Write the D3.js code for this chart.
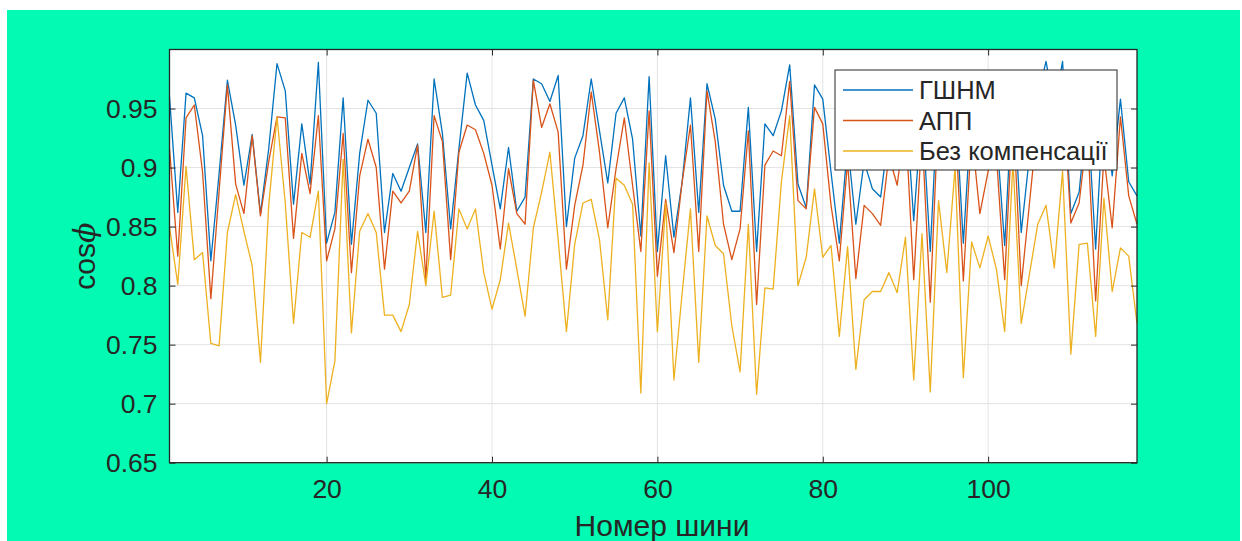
<!DOCTYPE html>
<html>
<head>
<meta charset="utf-8">
<script src="https://cdn.jsdelivr.net/npm/d3@7"></script>
<style>
  html, body { margin: 0; padding: 0; background: #fff; }
  svg { display: block; }
  text { font-family: "Liberation Sans", Arial, sans-serif; fill: #262626; }
</style>
</head>
<body>
<script>
(function() {
    var w = 1242;
    var h = 541;

    // bus numbers 1..118
    var buses = d3.range(1, 119);

    var gshnm = [0.960, 0.862, 0.963, 0.959, 0.927, 0.821, 0.895, 0.974, 0.936, 0.885,
        0.928, 0.861, 0.916, 0.988, 0.965, 0.869, 0.937, 0.886, 0.989, 0.836,
        0.862, 0.959, 0.835, 0.912, 0.957, 0.946, 0.845, 0.895, 0.880, 0.900,
        0.920, 0.845, 0.975, 0.929, 0.848, 0.916, 0.980, 0.953, 0.940, 0.902,
        0.865, 0.917, 0.863, 0.875, 0.975, 0.971, 0.956, 0.978, 0.850, 0.908,
        0.927, 0.975, 0.931, 0.887, 0.946, 0.959, 0.924, 0.842, 0.977, 0.829,
        0.910, 0.841, 0.888, 0.959, 0.862, 0.971, 0.941, 0.885, 0.863, 0.863,
        0.951, 0.829, 0.937, 0.927, 0.948, 0.987, 0.886, 0.866, 0.970, 0.958,
        0.896, 0.836, 0.920, 0.852, 0.905, 0.882, 0.875, 0.930, 0.910, 0.960,
        0.855, 0.950, 0.829, 0.970, 0.930, 0.960, 0.836, 0.950, 0.920, 0.960,
        0.930, 0.834, 0.970, 0.845, 0.910, 0.960, 0.990, 0.950, 0.990, 0.861,
        0.879, 0.950, 0.831, 0.960, 0.893, 0.958, 0.888, 0.876];

    var app = [0.916, 0.825, 0.942, 0.953, 0.896, 0.789, 0.880, 0.970, 0.886, 0.861,
        0.927, 0.859, 0.905, 0.943, 0.942, 0.840, 0.912, 0.878, 0.944, 0.821,
        0.848, 0.929, 0.811, 0.893, 0.924, 0.900, 0.814, 0.880, 0.870, 0.880,
        0.919, 0.805, 0.944, 0.922, 0.822, 0.913, 0.936, 0.932, 0.912, 0.885,
        0.831, 0.899, 0.861, 0.852, 0.974, 0.934, 0.954, 0.930, 0.814, 0.868,
        0.902, 0.964, 0.913, 0.849, 0.899, 0.942, 0.885, 0.829, 0.948, 0.808,
        0.873, 0.828, 0.888, 0.936, 0.829, 0.965, 0.922, 0.852, 0.822, 0.848,
        0.931, 0.784, 0.902, 0.914, 0.910, 0.973, 0.872, 0.865, 0.951, 0.937,
        0.868, 0.821, 0.905, 0.806, 0.868, 0.861, 0.851, 0.910, 0.885, 0.940,
        0.805, 0.930, 0.786, 0.950, 0.910, 0.940, 0.804, 0.930, 0.861, 0.897,
        0.910, 0.805, 0.950, 0.800, 0.870, 0.940, 0.960, 0.930, 0.970, 0.853,
        0.870, 0.930, 0.787, 0.910, 0.849, 0.943, 0.876, 0.852];

    var noComp = [0.850, 0.801, 0.901, 0.822, 0.828, 0.751, 0.749, 0.845, 0.877, 0.846,
        0.817, 0.735, 0.868, 0.943, 0.870, 0.768, 0.845, 0.841, 0.880, 0.700,
        0.736, 0.907, 0.760, 0.846, 0.861, 0.845, 0.775, 0.775, 0.761, 0.784,
        0.846, 0.800, 0.863, 0.790, 0.792, 0.865, 0.848, 0.865, 0.811, 0.780,
        0.805, 0.853, 0.814, 0.774, 0.849, 0.879, 0.913, 0.839, 0.761, 0.835,
        0.870, 0.873, 0.839, 0.771, 0.891, 0.885, 0.869, 0.709, 0.904, 0.761,
        0.870, 0.720, 0.794, 0.865, 0.735, 0.859, 0.834, 0.827, 0.766, 0.727,
        0.852, 0.708, 0.798, 0.797, 0.888, 0.944, 0.800, 0.824, 0.882, 0.824,
        0.834, 0.757, 0.833, 0.729, 0.788, 0.795, 0.795, 0.811, 0.794, 0.841,
        0.720, 0.844, 0.710, 0.872, 0.811, 0.900, 0.722, 0.837, 0.815, 0.842,
        0.814, 0.761, 0.905, 0.768, 0.810, 0.852, 0.868, 0.815, 0.897, 0.742,
        0.835, 0.836, 0.757, 0.874, 0.795, 0.832, 0.825, 0.768];

    var seriesNames = ["ГШНМ", "АПП", "Без компенсації"];
    var seriesColors = ["#0072BD", "#D95319", "#EDB120"];
    var xTicks = [20, 40, 60, 80, 100];
    var yTicks = [0.65, 0.7, 0.75, 0.8, 0.85, 0.9, 0.95];

    var left = 169.5, right = 1137, top = 49.5, bottom = 462.7;

    var svg = d3.select("body").append("svg")
        .attr("width", w)
        .attr("height", h);

    // green figure background
    svg.append("rect")
        .attr("x", 7).attr("y", 10)
        .attr("width", w - 9).attr("height", h - 10)
        .attr("fill", "#02FAB2");

    var x = d3.scaleLinear().domain([1, 118]).range([left, right]);
    var y = d3.scaleLinear().domain([0.65, 1.0]).range([bottom, top]);

    svg.append("rect")
        .attr("x", left).attr("y", top)
        .attr("width", right - left).attr("height", bottom - top)
        .attr("fill", "#ffffff");

    // grid
    svg.append("g").selectAll("line")
        .data(xTicks).enter().append("line")
        .attr("x1", function(d) { return x(d); })
        .attr("x2", function(d) { return x(d); })
        .attr("y1", top).attr("y2", bottom)
        .attr("stroke", "#e3e3e3").attr("stroke-width", 1);
    svg.append("g").selectAll("line")
        .data(yTicks).enter().append("line")
        .attr("x1", left).attr("x2", right)
        .attr("y1", function(d) { return y(d); })
        .attr("y2", function(d) { return y(d); })
        .attr("stroke", "#e3e3e3").attr("stroke-width", 1);

    // lines
    var data = [gshnm, app, noComp];
    var line = d3.line()
        .x(function(d, i) { return x(buses[i]); })
        .y(function(d) { return y(d); });

    var plot = svg.append("g");
    data.forEach(function(s, k) {
        plot.append("path")
            .datum(s)
            .attr("d", line)
            .attr("fill", "none")
            .attr("stroke", seriesColors[k])
            .attr("stroke-width", 1.3)
            .attr("stroke-linejoin", "round");
    });

    // axes (MATLAB-style, ticks inside, box on)
    var xAxis = d3.axisBottom(x).tickValues(xTicks).tickSize(-6).tickPadding(16)
        .tickFormat(d3.format("d"));
    var yAxis = d3.axisLeft(y).tickValues(yTicks).tickSize(-6).tickPadding(12)
        .tickFormat(function(d) { return d3.format("")(+d.toFixed(2)); });

    svg.append("g").attr("transform", "translate(0," + bottom + ")").call(xAxis);
    svg.append("g").attr("transform", "translate(" + left + ",0)").call(yAxis);
    svg.append("g").attr("transform", "translate(0," + top + ")")
        .call(d3.axisTop(x).tickValues(xTicks).tickSize(-6).tickFormat(""));
    svg.append("g").attr("transform", "translate(" + right + ",0)")
        .call(d3.axisRight(y).tickValues(yTicks).tickSize(-6).tickFormat(""));

    svg.selectAll(".domain").remove();
    svg.selectAll(".tick line").attr("stroke", "#262626").attr("stroke-width", 1);
    svg.selectAll(".tick text")
        .attr("font-size", 26.5)
        .attr("font-family", "Liberation Sans, Arial, sans-serif")
        .attr("fill", "#262626");

    svg.append("rect")
        .attr("x", left).attr("y", top)
        .attr("width", right - left).attr("height", bottom - top)
        .attr("fill", "none")
        .attr("stroke", "#262626").attr("stroke-width", 1.3);

    // axis labels
    svg.append("text")
        .attr("x", 662)
        .attr("y", 536)
        .attr("text-anchor", "middle")
        .attr("font-size", 30)
        .text("Номер шини");

    var yl = svg.append("text")
        .attr("transform", "translate(95," + ((top + bottom) / 2) + ") rotate(-90)")
        .attr("text-anchor", "middle")
        .attr("font-size", 30);
    yl.append("tspan").text("cos");
    yl.append("tspan").attr("font-style", "italic").attr("font-family", "DejaVu Serif, serif").text("ϕ");

    // legend
    var lg = svg.append("g");
    lg.append("rect")
        .attr("x", 835).attr("y", 70)
        .attr("width", 282).attr("height", 100)
        .attr("fill", "#ffffff")
        .attr("stroke", "#262626").attr("stroke-width", 1);
    seriesNames.forEach(function(name, k) {
        var cy = 90 + k * 30.5;
        lg.append("line")
            .attr("x1", 843).attr("x2", 913)
            .attr("y1", cy).attr("y2", cy)
            .attr("stroke", seriesColors[k]).attr("stroke-width", 1.3);
        lg.append("text")
            .attr("x", 919).attr("y", cy + 9)
            .attr("font-size", 25.5)
            .attr("fill", "#000")
            .text(name);
    });
})();
</script>
</body>
</html>
